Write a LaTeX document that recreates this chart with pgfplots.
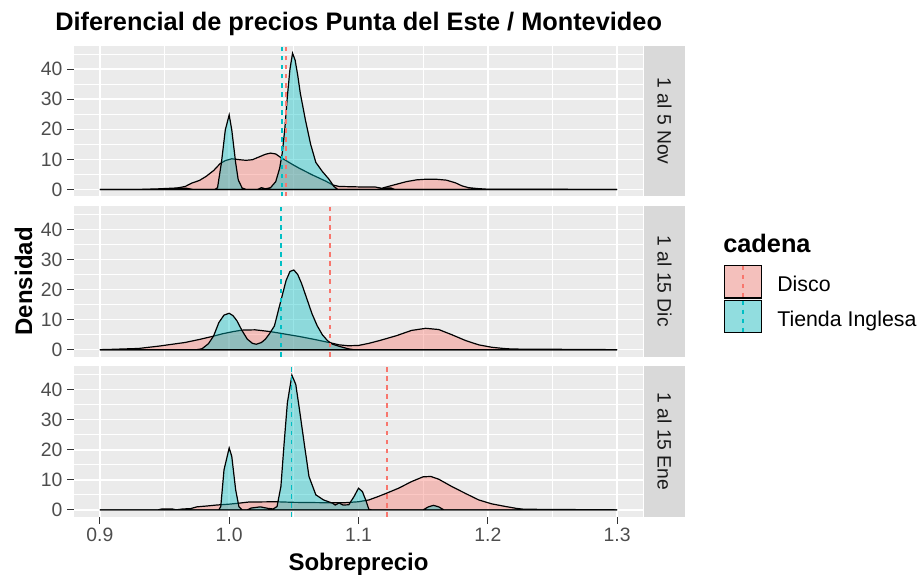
\documentclass[border=0pt]{standalone}
\usepackage{fontspec}
\setmainfont{Liberation Sans}
\usepackage{pgfplots}
\usepackage{pgfplotstable}
\pgfplotsset{compat=1.18}

\definecolor{disco}{HTML}{F8766D}
\definecolor{tienda}{HTML}{00BFC4}
\definecolor{panelbg}{HTML}{EBEBEB}
\definecolor{stripbg}{HTML}{D9D9D9}
\definecolor{ticktext}{HTML}{4D4D4D}
\definecolor{tickmark}{HTML}{333333}
\definecolor{striptext}{HTML}{1A1A1A}
\definecolor{keybg}{HTML}{F2F2F2}

% ---------- data: 1 al 5 Nov ----------
\pgfplotstableread{
x y
0.900 0
0.930 0
0.945 0.2
0.960 0.5
0.966 1.0
0.971 2.1
0.977 3.0
0.982 4.3
0.988 6.3
0.993 8.6
0.997 9.6
1.002 10.2
1.008 9.9
1.013 9.7
1.018 9.9
1.023 10.8
1.028 11.7
1.032 12.1
1.036 11.8
1.040 10.6
1.044 9.6
1.049 8.3
1.054 7.1
1.059 6.0
1.064 4.9
1.070 3.7
1.075 2.7
1.080 1.5
1.085 1.0
1.095 0.9
1.105 0.8
1.113 0.8
1.118 0.4
1.123 1.0
1.130 1.8
1.137 2.6
1.145 3.2
1.152 3.4
1.160 3.4
1.168 3.1
1.175 2.2
1.180 1.2
1.185 0.6
1.192 0.3
1.199 0.1
1.300 0
}\novdisco
\pgfplotstableread{
x y
0.900 0
0.955 0
0.960 0.4
0.967 0.4
0.972 0
0.989 0
0.991 0.6
0.994 8.9
0.997 19.8
1.000 24.8
1.002 19.8
1.005 8.9
1.007 3.2
1.010 0.5
1.013 0
1.022 0
1.025 0.6
1.028 0.2
1.032 0.6
1.036 2.6
1.039 7.0
1.041 12.0
1.043 20.0
1.045 31.0
1.047 40.0
1.049 45.3
1.051 43.0
1.053 38.0
1.055 32.0
1.059 23.0
1.063 15.0
1.067 9.0
1.072 6.0
1.077 3.5
1.081 1.0
1.084 0
1.118 0
1.121 0.5
1.125 0.5
1.128 0
1.300 0
}\novtienda
% ---------- data: 1 al 15 Dic ----------
\pgfplotstableread{
x y
0.900 0
0.909 0.1
0.930 0.4
0.946 1.2
0.956 1.8
0.966 2.4
0.977 3.4
0.987 4.4
0.995 5.3
1.003 6.0
1.010 6.5
1.020 6.6
1.032 6.0
1.043 5.2
1.054 4.4
1.066 3.4
1.077 2.4
1.085 1.6
1.092 1.3
1.100 1.4
1.108 2.1
1.116 3.0
1.129 4.6
1.141 6.4
1.152 7.1
1.162 6.7
1.172 5.0
1.183 3.0
1.193 1.6
1.203 0.8
1.212 0.4
1.219 0.2
1.300 0
}\dicdisco
\pgfplotstableread{
x y
0.900 0
0.975 0
0.979 0.3
0.984 2.0
0.988 4.6
0.992 9.0
0.996 11.5
1.000 12.1
1.003 11.3
1.006 9.6
1.010 6.3
1.014 3.5
1.018 2.1
1.021 1.8
1.025 2.4
1.028 3.5
1.031 5.2
1.035 7.9
1.038 13.0
1.041 18.0
1.044 23.0
1.047 26.0
1.050 26.5
1.053 25.0
1.056 22.0
1.060 17.0
1.064 12.0
1.068 8.0
1.072 5.0
1.076 3.0
1.080 1.8
1.086 1.0
1.092 0.3
1.096 0
1.300 0
}\dictienda
% ---------- data: 1 al 15 Ene ----------
\pgfplotstableread{
x y
0.900 0
0.945 0
0.948 0.3
0.956 0.3
0.959 0
0.964 0.3
0.970 0.4
0.975 1.0
0.983 1.3
0.990 1.6
1.000 1.9
1.007 2.2
1.015 2.6
1.036 2.7
1.050 2.5
1.070 2.4
1.090 2.4
1.100 2.7
1.108 3.3
1.115 4.4
1.122 5.6
1.131 7.2
1.141 9.4
1.150 11.0
1.156 11.1
1.162 10.2
1.172 7.8
1.183 5.4
1.193 3.3
1.203 2.0
1.214 1.1
1.222 0.5
1.228 0.2
1.300 0
}\enedisco
\pgfplotstableread{
x y
0.900 0
0.992 0
0.9935 1.1
0.996 13.3
1.000 20.6
1.002 17.8
1.005 6.7
1.0075 1.1
1.010 0
1.014 0
1.017 0.6
1.024 1.0
1.030 0.5
1.034 0.3
1.037 1.1
1.040 7.8
1.0425 22.2
1.045 35.6
1.0485 44.8
1.0515 41.7
1.054 34.4
1.058 22.2
1.0617 11.1
1.067 5.0
1.073 3.3
1.080 2.2
1.082 1.6
1.085 2.3
1.088 1.6
1.0925 1.7
1.0965 4.4
1.100 7.2
1.103 6.1
1.106 2.8
1.108 0.2
1.110 0
1.150 0
1.154 1.0
1.158 1.5
1.162 1.0
1.166 0
1.300 0
}\enetienda

\pgfplotsset{
  panel/.style={
    scale only axis, width=426.75pt, height=112.875pt,
    xmin=0.88, xmax=1.32, ymin=-2.275, ymax=47.775,
    axis background/.style={fill=panelbg},
    axis line style={draw=none},
    xtick={0.9,1.0,1.1,1.2,1.3}, minor xtick={0.95,1.05,1.15,1.25},
    ytick={0,10,20,30,40}, minor ytick={5,15,25,35,45},
    yticklabels={0,10,20,30,40},
    xticklabels={0.9,1.0,1.1,1.2,1.3},
    /pgf/number format/assume math mode=true,
    xmajorgrids, ymajorgrids, xminorgrids, yminorgrids,
    major grid style={white, line width=1.2pt},
    minor grid style={white, line width=0.6pt},
    tick align=outside, major tick length=5.25pt, minor tick length=0pt,
    tick style={color=tickmark, line width=0.8pt},
    xtick pos=bottom, ytick pos=left,
    tick label style={font=\fontsize{14.5}{16}\selectfont, text=ticktext},
    anchor=north west,
  },
  dfill/.style={fill=disco, fill opacity=0.4, draw=black, draw opacity=1, line width=0.9pt, mark=none},
  tfill/.style={fill=tienda, fill opacity=0.4, draw=black, draw opacity=1, line width=0.9pt, mark=none},
  dline/.style={disco, line width=1.1pt, dash pattern=on 3.4pt off 3.4pt, mark=none},
  tline/.style={tienda, line width=1.1pt, dash pattern=on 3.4pt off 3.4pt, mark=none},
}

\begin{document}
\begin{tikzpicture}
\useasboundingbox (0,0) rectangle (690pt,-431.25pt);

% Panel 1
\begin{axis}[panel, at={(55.5pt,-34.35pt)}, xticklabels={}, xtick style={draw=none}]
\addplot[dfill] table {\novdisco} \closedcycle;
\addplot[tfill] table {\novtienda} \closedcycle;
\addplot[dline] coordinates {(1.044,-2.275) (1.044,47.775)};
\addplot[tline] coordinates {(1.041,-2.275) (1.041,47.775)};
\end{axis}

% Panel 2
\begin{axis}[panel, at={(55.5pt,-154.5pt)}, xticklabels={}, xtick style={draw=none}]
\addplot[dfill] table {\dicdisco} \closedcycle;
\addplot[tfill] table {\dictienda} \closedcycle;
\addplot[dline] coordinates {(1.078,-2.275) (1.078,47.775)};
\addplot[tline] coordinates {(1.040,-2.275) (1.040,47.775)};
\end{axis}

% Panel 3
\begin{axis}[panel, at={(55.5pt,-274.65pt)}]
\addplot[dfill] table {\enedisco} \closedcycle;
\addplot[tfill] table {\enetienda} \closedcycle;
\addplot[dline] coordinates {(1.122,-2.275) (1.122,47.775)};
\addplot[tline] coordinates {(1.048,-2.275) (1.048,47.775)};
\end{axis}

% strips
\fill[stripbg] (483pt,-34.35pt) rectangle (513.75pt,-147.225pt);
\fill[stripbg] (483pt,-154.5pt) rectangle (513.75pt,-267.375pt);
\fill[stripbg] (483pt,-274.65pt) rectangle (513.75pt,-387.525pt);
\node[rotate=-90, text=striptext, font=\fontsize{14.5}{16}\selectfont] at (498.4pt,-90.79pt) {1 al 5 Nov};
\node[rotate=-90, text=striptext, font=\fontsize{14.5}{16}\selectfont] at (498.4pt,-210.94pt) {1 al 15 Dic};
\node[rotate=-90, text=striptext, font=\fontsize{14.5}{16}\selectfont] at (498.4pt,-331.09pt) {1 al 15 Ene};

% titles
\node[anchor=base west, font=\bfseries\fontsize{19}{21}\selectfont, inner sep=0pt] at (41.25pt,-22.5pt) {Diferencial de precios Punta del Este / Montevideo};
\node[anchor=base, font=\bfseries\fontsize{18}{20}\selectfont, inner sep=0pt] at (268.9pt,-428pt) {Sobreprecio};
\node[anchor=base, rotate=90, font=\bfseries\fontsize{18}{20}\selectfont, inner sep=0pt] at (24pt,-211pt) {Densidad};

% legend
\node[anchor=base west, font=\bfseries\fontsize{19}{21}\selectfont, inner sep=0pt] at (542.25pt,-189pt) {cadena};
\fill[keybg] (543pt,-198.75pt) rectangle (571.5pt,-249.75pt);
\filldraw[fill=disco, fill opacity=0.4, draw=black, line width=0.9pt] (543.5pt,-199.25pt) rectangle (571pt,-223.5pt);
\filldraw[fill=tienda, fill opacity=0.4, draw=black, line width=0.9pt] (543.5pt,-225.5pt) rectangle (571pt,-249.5pt);
\draw[disco, line width=1.1pt, dash pattern=on 3.4pt off 3.4pt] (557.25pt,-199.25pt) -- (557.25pt,-223.5pt);
\draw[tienda, line width=1.1pt, dash pattern=on 3.4pt off 3.4pt] (557.25pt,-225.5pt) -- (557.25pt,-249.5pt);
\node[anchor=base west, font=\fontsize{16}{18}\selectfont, inner sep=0pt] at (582.75pt,-218.25pt) {Disco};
\node[anchor=base west, font=\fontsize{16}{18}\selectfont, inner sep=0pt] at (582.75pt,-244.5pt) {Tienda Inglesa};
\end{tikzpicture}
\end{document}
